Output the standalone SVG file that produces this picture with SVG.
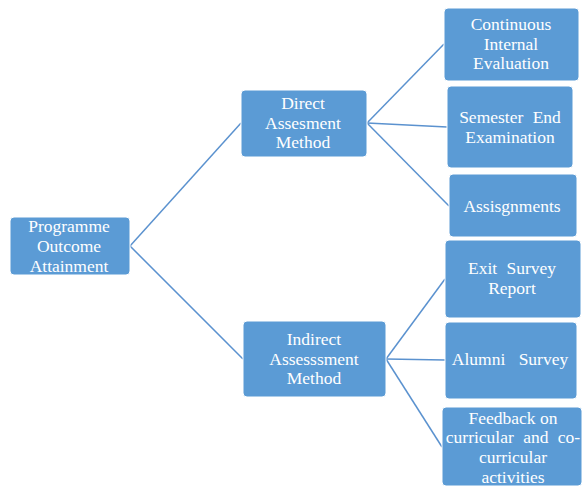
<svg xmlns="http://www.w3.org/2000/svg" width="583" height="489" viewBox="0 0 583 489">
  <style>
    .box { fill: #5B9BD5; stroke: #FFFFFF; stroke-width: 1; }
    .lbl { font-family: 'Liberation Serif', 'DejaVu Serif', serif; font-size: 17.5px; fill: #FFFFFF; text-anchor: middle; }
    .link { stroke: #5B92CF; stroke-width: 1.5; fill: none; }
  </style>
  <rect width="583" height="489" fill="#FFFFFF"/>

  <!-- connectors -->
  <g id="connectors">
    <line class="link" x1="130" y1="246" x2="241" y2="123"/>
    <line class="link" x1="130" y1="246" x2="243" y2="359"/>
    <line class="link" x1="367" y1="123" x2="444" y2="44"/>
    <line class="link" x1="367" y1="123" x2="447" y2="127"/>
    <line class="link" x1="367" y1="123" x2="449" y2="206"/>
    <line class="link" x1="386" y1="359" x2="445" y2="279"/>
    <line class="link" x1="386" y1="359" x2="445" y2="360"/>
    <line class="link" x1="386" y1="359" x2="442" y2="447"/>
  </g>

  <!-- root -->
  <g id="programme-outcome">
    <rect class="box" x="10" y="217" width="120" height="58" rx="4"/>
    <text class="lbl" x="69" y="232">Programme</text>
    <text class="lbl" x="69" y="252">Outcome</text>
    <text class="lbl" x="69" y="272">Attainment</text>
  </g>

  <!-- second level -->
  <g id="direct-method">
    <rect class="box" x="241" y="90" width="126" height="67" rx="4"/>
    <text class="lbl" x="303" y="109">Direct</text>
    <text class="lbl" x="303" y="129">Assesment</text>
    <text class="lbl" x="303" y="148">Method</text>
  </g>
  <g id="indirect-method">
    <rect class="box" x="243" y="321" width="143" height="76" rx="4"/>
    <text class="lbl" x="314" y="345">Indirect</text>
    <text class="lbl" x="314" y="365">Assesssment</text>
    <text class="lbl" x="314" y="384">Method</text>
  </g>

  <!-- direct leaves -->
  <g id="continuous-evaluation">
    <rect class="box" x="444" y="8" width="135" height="73" rx="4"/>
    <text class="lbl" x="511" y="30">Continuous</text>
    <text class="lbl" x="511" y="50">Internal</text>
    <text class="lbl" x="511" y="69">Evaluation</text>
  </g>
  <g id="semester-exam">
    <rect class="box" x="447" y="86" width="126" height="82" rx="4"/>
    <text class="lbl" x="510" y="123" word-spacing="5">Semester End</text>
    <text class="lbl" x="510" y="143">Examination</text>
  </g>
  <g id="assignments">
    <rect class="box" x="449" y="174" width="128" height="63" rx="4"/>
    <text class="lbl" x="512" y="212">Assisgnments</text>
  </g>

  <!-- indirect leaves -->
  <g id="exit-survey">
    <rect class="box" x="445" y="240" width="136" height="78" rx="4"/>
    <text class="lbl" x="512" y="274" word-spacing="5">Exit Survey</text>
    <text class="lbl" x="512" y="294">Report</text>
  </g>
  <g id="alumni-survey">
    <rect class="box" x="445" y="322" width="132" height="77" rx="4"/>
    <text class="lbl" x="510" y="365" word-spacing="9">Alumni Survey</text>
  </g>
  <g id="feedback">
    <rect class="box" x="442" y="407" width="140" height="79" rx="4"/>
    <text class="lbl" x="513" y="424">Feedback on</text>
    <text class="lbl" x="513" y="443" word-spacing="5">curricular and co-</text>
    <text class="lbl" x="513" y="463">curricular</text>
    <text class="lbl" x="513" y="483">activities</text>
  </g>
</svg>
